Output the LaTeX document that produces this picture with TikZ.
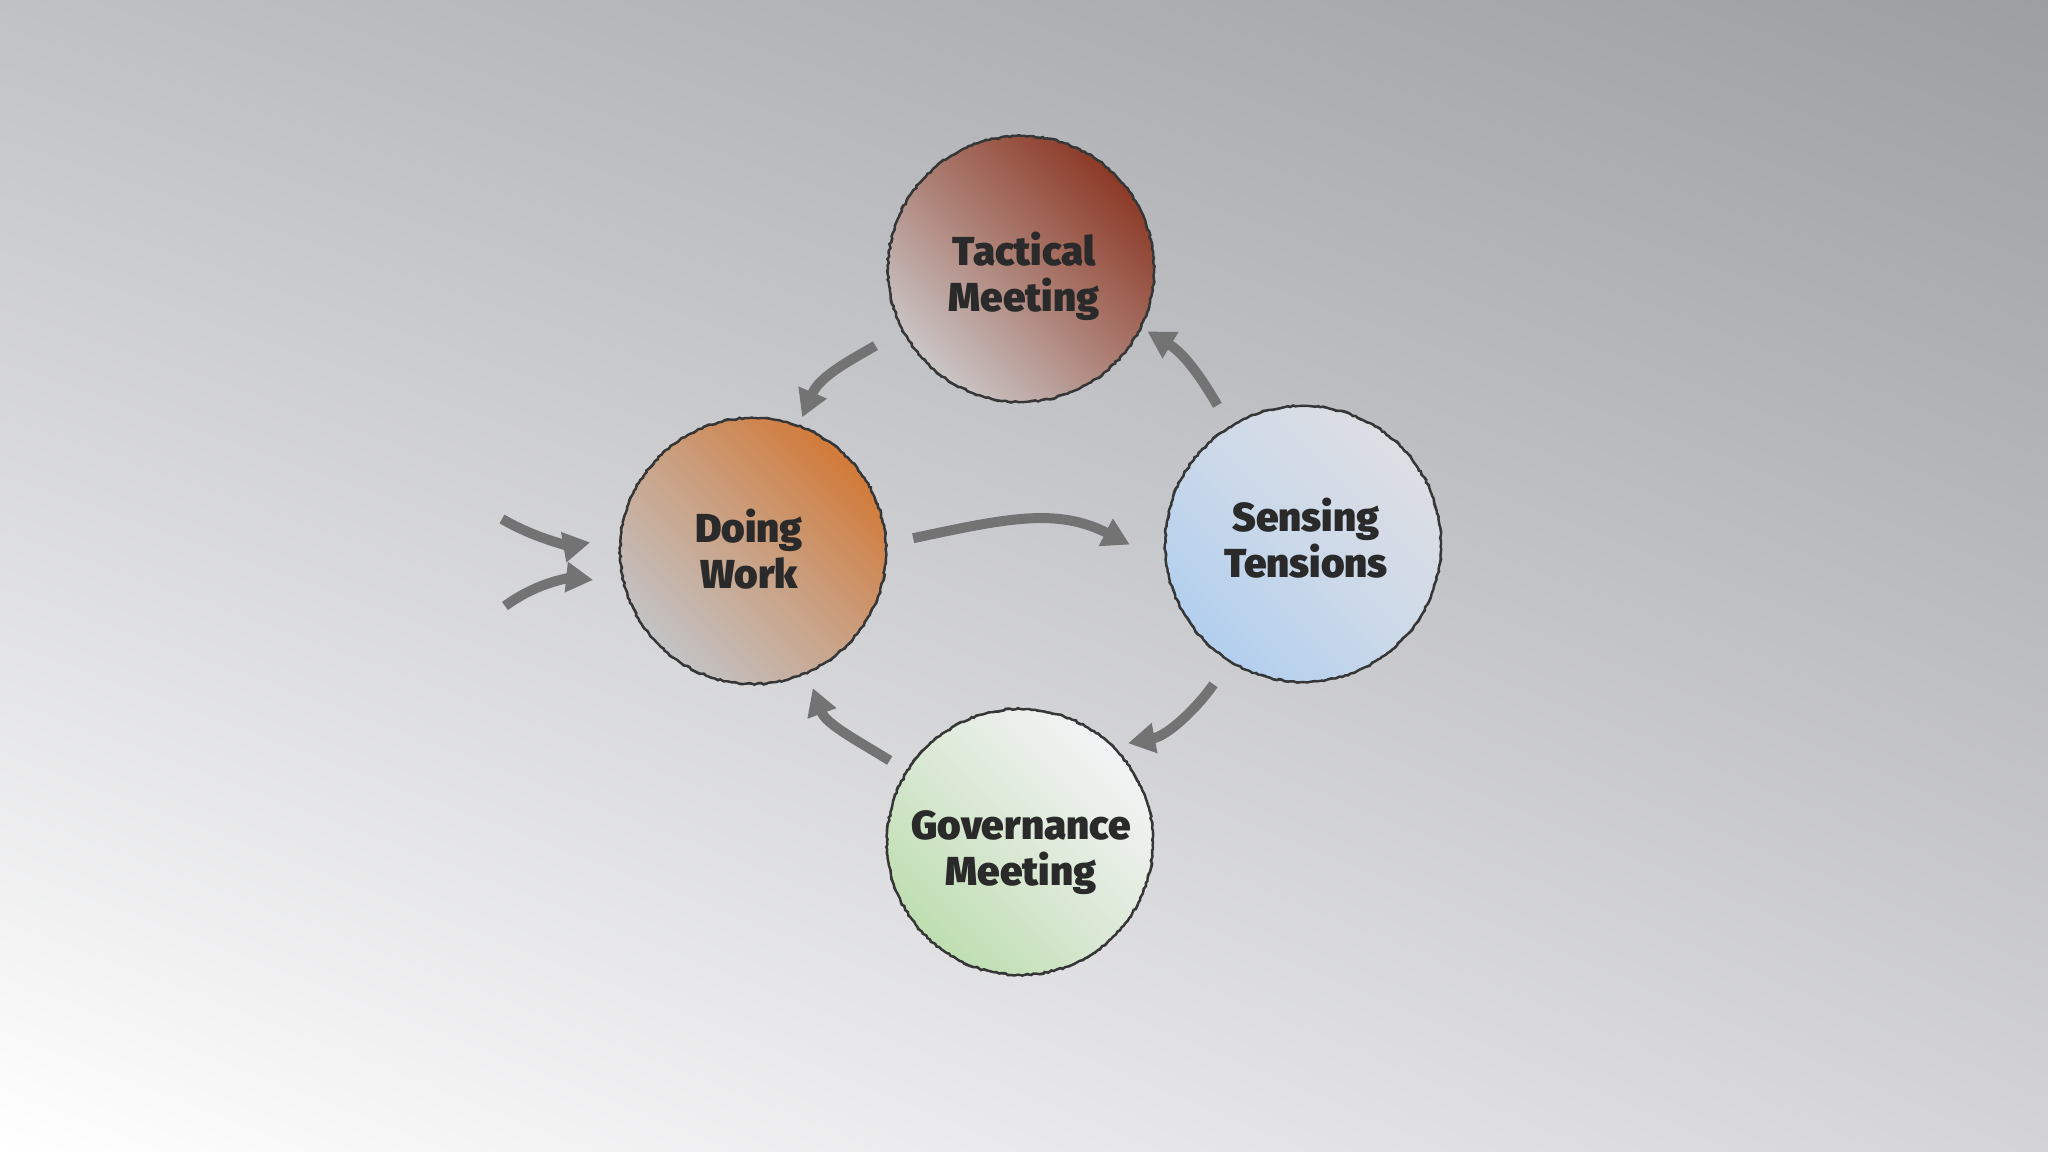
\documentclass[tikz,border=0pt]{standalone}
\usepackage{fontspec}
\IfFontExistsTF{Fira Sans Black}{\newfontfamily\lbl{Fira Sans Black}[Ligatures=NoCommon]}{%
 \IfFontExistsTF{Fira Sans Heavy}{\newfontfamily\lbl{Fira Sans Heavy}[Ligatures=NoCommon]}{%
  \IfFontExistsTF{Lato Black}{\newfontfamily\lbl{Lato Black}[Ligatures=NoCommon]}{%
   \IfFontExistsTF{Fira Sans ExtraBold}{\newfontfamily\lbl{Fira Sans ExtraBold}[Ligatures=NoCommon]}{%
    \newfontfamily\lbl{Fira Sans}[UprightFont={* Bold},Ligatures=NoCommon]}}}}
\usetikzlibrary{arrows.meta,decorations.pathmorphing,shadings}
\definecolor{bgUL}{HTML}{C0C1C5}
\definecolor{bgUR}{HTML}{9C9EA2}
\definecolor{bgLL}{HTML}{FFFFFF}
\definecolor{bgLR}{HTML}{D4D4D8}
\definecolor{arrowgray}{HTML}{737373}
\definecolor{txt}{HTML}{2A2A2A}
\definecolor{rimc}{HTML}{363636}
\definecolor{tacHi}{HTML}{8C3A27}
\definecolor{tacMid}{HTML}{AC7E73}
\definecolor{tacLo}{HTML}{CAC6C6}
\definecolor{doHi}{HTML}{D27A38}
\definecolor{doMid}{HTML}{C9A184}
\definecolor{doLo}{HTML}{C3C3C5}
\definecolor{seHi}{HTML}{DDDEE3}
\definecolor{seMid}{HTML}{CCD9E9}
\definecolor{seLo}{HTML}{B2CFEE}
\definecolor{goHi}{HTML}{F3F3F5}
\definecolor{goMid}{HTML}{DCE9D7}
\definecolor{goLo}{HTML}{BEDEB0}
\begin{document}
\begin{tikzpicture}[x=0.1mm,y=-0.1mm,
  bubble/.style={circle, inner sep=0pt, outer sep=0pt, minimum size=26.6mm},
  lbl/.style={inner sep=0pt, align=center, text=txt,
    font={\lbl\fontsize{11.5pt}{13.1pt}\selectfont}},
  rim/.style={draw=rimc, line width=0.24mm, decorate,
    decoration={random steps, segment length=0.3mm, amplitude=0.1mm}},
  rimbase/.style={draw=rimc!85, line width=0.16mm},
  flow/.style={draw=arrowgray, line width=1mm,
    -{Triangle[length=2.7mm,width=2.9mm]}}]
\pgfmathsetseed{7}
\useasboundingbox (0,0) rectangle (2048,1152);
\shade[shading=bilinear interpolation, upper left=bgUL, upper right=bgUR, lower left=bgLL, lower right=bgLR]
  (0,0) rectangle (2048,1152);

\node[bubble, bottom color=tacLo, top color=tacHi, middle color=tacMid, shading angle=-45] (T) at (1021,269) {};
\node[bubble, bottom color=doLo, top color=doHi, middle color=doMid, shading angle=-45] (D) at (753,551) {};
\node[bubble, minimum size=27.6mm, bottom color=seLo, top color=seHi, middle color=seMid, shading angle=-45] (S) at (1303,544) {};
\node[bubble, bottom color=goLo, top color=goHi, middle color=goMid, shading angle=-45] (G) at (1020,842) {};

\node[lbl] (Tl) at (1024,276) {Tactical\\Meeting};
\node[lbl] (Dl) at (749,549) {Doing\\Work};
\node[lbl] (Sl) at (1306,538) {Sensing\\Tensions};
\node[lbl] (Gl) at (1021,853) {Governance\\Meeting};

\foreach \n/\r in {T/133,D/133,S/138,G/133}{
  \draw[rimbase] (\n.center) circle[radius=\r];
  \draw[rim] (\n.center) circle[radius=\r];
}

\coordinate (in1) at (502,519);
\coordinate (in2) at (505,606);

\draw[flow, shorten <=3.16mm, shorten >=0.94mm] (T.207) to[out=211,in=67] (D.70);
\draw[flow, shorten <=2.5mm, shorten >=0.8mm] (S.122) to[out=120,in=329] (T.334);
\draw[flow, shorten <=2.8mm, shorten >=4.1mm] (D.3) to[out=12,in=153,looseness=1.12] (S.188);
\draw[flow, shorten <=2.85mm, shorten >=1.6mm] (S.238) to[out=235,in=11] (G.46);
\draw[flow, shorten <=2.07mm, shorten >=1.66mm] (G.148) to[out=148,in=290] (D.294);
\draw[flow, shorten >=3.1mm] (in1) to[out=-30,in=190] (D.174);
\draw[flow, shorten >=3.1mm] (in2) to[out=36,in=174] (D.194);
\end{tikzpicture}
\end{document}
